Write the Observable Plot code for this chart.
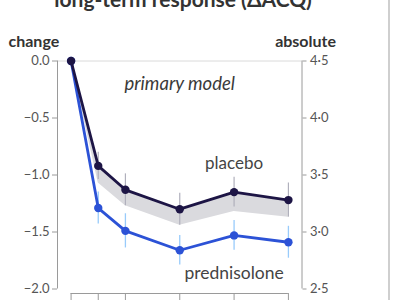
<!DOCTYPE html>
<html>
<head>
<meta charset="utf-8">
<script src="https://cdn.jsdelivr.net/npm/d3@7"></script>
<script src="https://cdn.jsdelivr.net/npm/@observablehq/plot@0.6"></script>
<style>
  html, body { margin: 0; padding: 0; background: #fff; overflow: hidden; }
  #wrap { position: relative; width: 400px; height: 300px; overflow: hidden; font-family: Lato, "Open Sans", sans-serif; }
  #title { position: absolute; left: 0; width: 366px; top: -12px; text-align: center; font-size: 21px; font-weight: 700; color: #333; line-height: 21px; white-space: nowrap; }
  #edge { position: absolute; left: 388px; top: 0; width: 2px; height: 300px; background: #cfcfcf; }
  #chart { position: absolute; left: 0; top: 0; }
</style>
</head>
<body>
<div id="wrap">
  <div id="chart"></div>
  <div id="title">long-term response (ΔACQ)</div>
  <div id="edge"></div>
</div>
<script>
const weeks = [0, 1, 2, 4, 6, 8];
const placebo = [0, -0.92, -1.13, -1.30, -1.15, -1.22];
const placeboErr = [0, 0.12, 0.14, 0.14, 0.13, 0.15];
const bandLower = [0, -1.07, -1.27, -1.44, -1.32, -1.37];
const prednisolone = [0, -1.29, -1.49, -1.66, -1.53, -1.59];
const prednisoloneErr = [0, 0.14, 0.15, 0.13, 0.13, 0.14];
const yTicks = [0, -0.5, -1, -1.5, -2];
const absoluteOffset = 4.5;
const xDomain = [-0.5, 8.5];
const yDomain = [-2, 0];
const labelWeek = 6;

const placeboRows = weeks.map((w, i) => ({week: w, v: placebo[i], e: placeboErr[i], lo: bandLower[i], series: "placebo"}));
const predRows = weeks.map((w, i) => ({week: w, v: prednisolone[i], e: prednisoloneErr[i], series: "prednisolone"}));

const dark = "#1d1545";
const blue = "#2c52d6";
const fmt = d3.format(".1f");

const chart = Plot.plot({
  width: 400,
  height: 320,
  marginLeft: 57,
  marginRight: 98.5,
  marginTop: 60.5,
  marginBottom: 31.5,
  style: {fontFamily: "Lato, 'Open Sans', sans-serif", background: "transparent"},
  x: {domain: xDomain},
  y: {domain: yDomain},
  marks: [
    Plot.ruleY([yDomain[1]], {stroke: "#dadada", strokeWidth: 1}),
    Plot.ruleX([xDomain[0], xDomain[1]], {y1: yDomain[0], y2: yDomain[1], stroke: "#9a9a9a", strokeWidth: 1}),
    Plot.ruleY([yDomain[0]], {x1: weeks[0], x2: weeks[weeks.length - 1], dy: 4.5, stroke: "#9a9a9a", strokeWidth: 1}),
    Plot.areaY(placeboRows, {x: "week", y1: "lo", y2: "v", fill: "#dadade"}),
    Plot.ruleX(placeboRows.filter(d => d.e > 0), {x: "week", y1: d => d.v - d.e, y2: d => d.v + d.e, stroke: "#b0b0bc", strokeWidth: 1.2}),
    Plot.ruleX(predRows.filter(d => d.e > 0), {x: "week", y1: d => d.v - d.e, y2: d => d.v + d.e, stroke: "#98cbfb", strokeWidth: 1.3}),
    Plot.line(predRows, {x: "week", y: "v", stroke: blue, strokeWidth: 2.8}),
    Plot.dot(predRows, {x: "week", y: "v", r: 4.2, fill: blue}),
    Plot.line(placeboRows, {x: "week", y: "v", stroke: dark, strokeWidth: 2.8}),
    Plot.dot(placeboRows, {x: "week", y: "v", r: 4.2, fill: dark}),
    Plot.text(placeboRows.filter(d => d.week === labelWeek), {x: "week", y: "v", text: "series", dx: 0, dy: -29, fontSize: 17, fill: "#444"}),
    Plot.text(predRows.filter(d => d.week === labelWeek), {x: "week", y: "v", text: "series", dx: 0, dy: 38, fontSize: 17.5, fill: "#444"}),
    Plot.text(["primary model"], {frameAnchor: "top", dx: 0, dy: 15.5, fontSize: 18.5, fontStyle: "italic", fill: "#3a3a3a"}),
    Plot.text(["change"], {frameAnchor: "top-left", textAnchor: "start", dx: -49, dy: -25, fontSize: 16, fontWeight: "bold", fill: "#333"}),
    Plot.text(["absolute"], {frameAnchor: "top-right", textAnchor: "end", dx: 34, dy: -25, fontSize: 16, fontWeight: "bold", fill: "#333"}),
    Plot.axisY({ticks: yTicks, tickFormat: fmt, tickSize: 5, tickPadding: 3, label: null, fontSize: 13, stroke: "#9a9a9a", fill: "#555"}),
    Plot.axisY({anchor: "right", ticks: yTicks, tickFormat: d => fmt(d + absoluteOffset).replace(".", "·"), tickSize: 4, tickPadding: 4, label: null, fontSize: 13, stroke: "#9a9a9a", fill: "#555"}),
    Plot.axisX({ticks: weeks, tickFormat: () => null, tickSize: 7, dy: 4.5, label: null, stroke: "#9a9a9a"})
  ]
});
document.getElementById("chart").appendChild(chart);
</script>
</body>
</html>
